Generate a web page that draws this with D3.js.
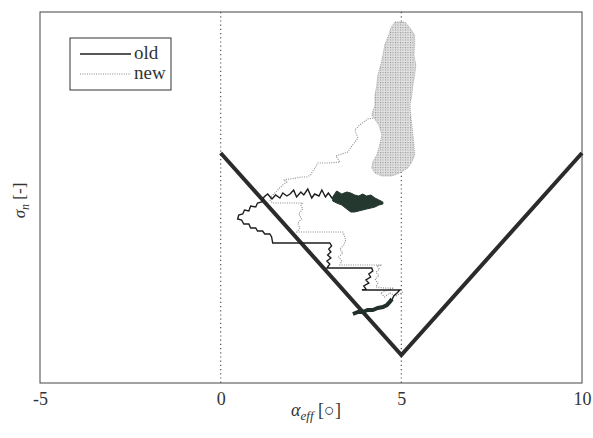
<!DOCTYPE html>
<html>
<head>
<meta charset="utf-8">
<script src="https://cdn.jsdelivr.net/npm/d3@7"></script>
<style>
  body { margin: 0; background: #fff; }
  text { font-family: "Liberation Serif", "DejaVu Serif", serif; fill: #333; }
</style>
</head>
<body>
<div id="chart"></div>
<script>
// tick labels on the x axis
var xTicks = [-5, 0, 5, 10];

// the V shaped boundary
var boundX = [0, 5, 10];
var boundY = [23.0, 2.8, 23.0];

// "old" trace, thin solid line
var oldX = [3.10, 2.98, 2.90, 2.80, 2.72, 2.60, 2.52, 2.41, 2.30, 2.22, 2.10, 2.02, 1.92, 1.83, 1.72, 1.64, 1.52, 1.42, 1.30, 1.20,
            1.14, 1.02, 0.97, 0.83, 0.78, 0.66, 0.61, 0.50, 0.47, 0.58, 0.64, 0.78, 0.83, 0.97, 1.02, 1.16, 1.22, 1.36, 1.41, 1.44,
            3.02, 3.07, 2.99, 3.05, 2.96, 3.05, 2.94, 3.02, 2.94,
            4.18, 4.21, 4.10, 4.15, 4.02, 4.10, 3.96, 4.02, 3.91,
            4.96, 4.88, 4.79, 4.74, 4.65, 4.60];
var oldY = [18.4, 19.0, 18.6, 19.3, 18.7, 18.9, 18.5, 19.4, 18.8, 19.1, 18.6, 19.3, 18.9, 18.7, 19.0, 18.5, 18.8, 18.4, 18.9, 18.6,
            18.1, 18.0, 17.6, 17.7, 17.2, 17.3, 16.9, 16.8, 16.4, 16.3, 15.9, 15.9, 15.5, 15.5, 15.2, 15.2, 14.9, 14.9, 14.6, 14.0,
            14.0, 13.7, 13.4, 13.1, 12.8, 12.5, 12.2, 11.9, 11.5,
            11.5, 11.2, 10.9, 10.6, 10.3, 10.0, 9.7, 9.4, 9.3,
            9.3, 9.0, 8.7, 8.3, 8.1, 7.8];

// "old" trace, dense end near the boundary
var oldTailX = [3.66, 3.80, 3.93, 4.07, 4.21, 4.35, 4.49, 4.60, 4.68, 4.74];
var oldTailY = [6.9, 7.1, 7.1, 7.3, 7.3, 7.5, 7.6, 7.8, 8.1, 8.4];

// "old" trace, dense blob (x, lower and upper edge)
var blobX  = [3.10, 3.21, 3.35, 3.49, 3.60, 3.71, 3.82, 3.93, 4.04, 4.16, 4.27, 4.38, 4.49];
var blobY0 = [18.2, 18.0, 17.8, 17.4, 17.1, 17.1, 17.2, 17.3, 17.4, 17.5, 17.6, 17.8, 17.9];
var blobY1 = [18.6, 19.2, 18.9, 19.1, 19.0, 18.8, 18.7, 18.9, 18.7, 18.8, 18.5, 18.3, 18.1];

// "new" trace, dotted line
var newX = [5.04, 4.85, 4.68, 4.54, 4.43, 4.63, 4.79, 4.52, 4.30, 4.35, 4.27, 4.38, 4.30, 4.40, 4.32, 4.46,
            3.30, 3.35, 3.27, 3.38, 3.30, 3.41, 3.46, 3.43, 3.38,
            2.11, 2.19, 2.13, 2.24, 2.16, 2.27, 2.22, 2.27,
            1.44, 1.36, 1.41, 1.50, 1.63, 1.72, 1.83, 1.74, 1.91, 2.08, 2.24, 2.38, 2.49, 2.55, 2.63, 2.69,
            3.02, 3.30, 3.19, 3.35, 3.52, 3.63, 3.80, 3.71, 3.85, 4.07, 4.24];
var newY = [9.1, 8.7, 9.0, 8.6, 9.0, 9.3, 9.5, 9.5, 9.6, 10.0, 10.4, 10.7, 11.1, 11.4, 11.7, 11.8,
            11.8, 12.2, 12.6, 13.0, 13.4, 13.8, 14.3, 14.7, 15.1,
            15.1, 15.5, 16.0, 16.4, 16.9, 17.4, 17.8, 18.0,
            18.0, 18.3, 18.7, 19.0, 19.5, 19.8, 20.1, 20.3, 20.4, 20.5, 20.6, 20.6, 20.8, 21.2, 21.6, 22.0,
            22.0, 22.1, 22.7, 22.9, 23.1, 23.7, 24.5, 25.3, 25.8, 26.4, 26.5];

// "new" trace, dense cloud at the top (y, left and right edge)
var cloudY  = [36.1, 35.5, 34.8, 33.8, 32.8, 31.8, 30.8, 29.8, 28.8, 27.8, 26.8, 25.8, 24.8, 23.8, 22.8, 22.1, 21.5, 21.0, 20.7];
var cloudX0 = [4.82, 4.71, 4.65, 4.54, 4.49, 4.43, 4.35, 4.32, 4.27, 4.27, 4.18, 4.38, 4.46, 4.40, 4.32, 4.21, 4.18, 4.27, 4.46];
var cloudX1 = [5.10, 5.24, 5.37, 5.37, 5.35, 5.40, 5.37, 5.32, 5.29, 5.24, 5.26, 5.29, 5.32, 5.35, 5.37, 5.29, 5.18, 4.96, 4.74];

var margin = {top: 12, right: 11, bottom: 55, left: 40},
    width = 593 - margin.left - margin.right,
    height = 438 - margin.top - margin.bottom;

var xScale = d3.scaleLinear().domain([-5, 10]).range([0, width]);
var yScale = d3.scaleLinear().domain([0, 37.1]).range([height, 0]);

var svg = d3.select("#chart").append("svg")
    .attr("width", 593)
    .attr("height", 438)
    .append("g")
    .attr("transform", "translate(" + margin.left + "," + margin.top + ")");

// dot texture for the cloud
var pat = svg.append("defs").append("pattern")
    .attr("id", "dots")
    .attr("patternUnits", "userSpaceOnUse")
    .attr("width", 2.5).attr("height", 2.5);
pat.append("rect").attr("width", 2.5).attr("height", 2.5).attr("fill", "#e0e0e0");
pat.append("rect").attr("width", 1).attr("height", 1).attr("fill", "#8f8f8f");

// dotted verticals at 0 and 5
svg.selectAll(".vline")
    .data([0, 5])
    .enter().append("line")
    .attr("x1", function(d) { return xScale(d); })
    .attr("x2", function(d) { return xScale(d); })
    .attr("y1", 0).attr("y2", height)
    .attr("stroke", "#555")
    .attr("stroke-width", 1.2)
    .attr("stroke-dasharray", "1.2,3");

// x axis
var xAxis = d3.axisBottom(xScale).tickValues(xTicks)
    .tickFormat(function(d) { return String(d); })
    .tickSize(0).tickPadding(9);
var gx = svg.append("g")
    .attr("transform", "translate(0," + height + ")")
    .attr("font-family", "Liberation Serif, serif")
    .call(xAxis);
gx.select(".domain").remove();
gx.selectAll("text").style("font-size", "18px").attr("fill", "#333");

// frame
svg.append("rect")
    .attr("width", width).attr("height", height)
    .attr("fill", "none")
    .attr("stroke", "#444")
    .attr("stroke-width", 1);

// cloud of the new trace
var cloud = cloudY.map(function(d, i) { return {y: d, x0: cloudX0[i], x1: cloudX1[i]}; });
svg.append("path")
    .datum(cloud)
    .attr("d", d3.area()
        .y(function(d) { return yScale(d.y); })
        .x0(function(d) { return xScale(d.x0); })
        .x1(function(d) { return xScale(d.x1); }))
    .attr("fill", "url(#dots)")
    .attr("stroke", "#999")
    .attr("stroke-width", 0.8)
    .attr("stroke-dasharray", "1,1");

// new trace line
var line = d3.line()
    .x(function(d) { return xScale(d[0]); })
    .y(function(d) { return yScale(d[1]); });

svg.append("path")
    .datum(newX.map(function(d, i) { return [d, newY[i]]; }))
    .attr("d", line)
    .attr("fill", "none")
    .attr("stroke", "#888")
    .attr("stroke-width", 1.1)
    .attr("stroke-dasharray", "1,1.3");

// boundary V
svg.append("path")
    .datum(boundX.map(function(d, i) { return [d, boundY[i]]; }))
    .attr("d", line)
    .attr("fill", "none")
    .attr("stroke", "#2b2b2b")
    .attr("stroke-width", 4);

// old trace
svg.append("path")
    .datum(oldX.map(function(d, i) { return [d, oldY[i]]; }))
    .attr("d", line)
    .attr("fill", "none")
    .attr("stroke", "#1e1e1e")
    .attr("stroke-width", 1.4);

svg.append("path")
    .datum(oldTailX.map(function(d, i) { return [d, oldTailY[i]]; }))
    .attr("d", line)
    .attr("fill", "none")
    .attr("stroke", "#22302c")
    .attr("stroke-width", 4);

var blob = blobX.map(function(d, i) { return {x: d, y0: blobY0[i], y1: blobY1[i]}; });
svg.append("path")
    .datum(blob)
    .attr("d", d3.area()
        .x(function(d) { return xScale(d.x); })
        .y0(function(d) { return yScale(d.y0); })
        .y1(function(d) { return yScale(d.y1); }))
    .attr("fill", "#24382f")
    .attr("stroke", "#24382f")
    .attr("stroke-width", 1);

// legend
var leg = svg.append("g").attr("transform", "translate(30,26)");
leg.append("rect")
    .attr("width", 101).attr("height", 52)
    .attr("fill", "#fff")
    .attr("stroke", "#333")
    .attr("stroke-width", 1);
leg.append("line").attr("x1", 10).attr("x2", 61).attr("y1", 16).attr("y2", 16)
    .attr("stroke", "#1e1e1e").attr("stroke-width", 1.4);
leg.append("line").attr("x1", 10).attr("x2", 61).attr("y1", 36).attr("y2", 36)
    .attr("stroke", "#888").attr("stroke-width", 1.1).attr("stroke-dasharray", "1,1.3");
leg.append("text").attr("x", 64).attr("y", 21).style("font-size", "19px").text("old");
leg.append("text").attr("x", 64).attr("y", 41).style("font-size", "19px").text("new");

// axis labels
var xl = svg.append("text")
    .attr("x", width / 2 + 5)
    .attr("y", height + 33)
    .attr("text-anchor", "middle")
    .style("font-size", "18px");
xl.append("tspan").style("font-style", "italic").text("α");
xl.append("tspan").style("font-style", "italic").style("font-size", "13px").attr("dy", 4).text("eff");
xl.append("tspan").attr("dy", -4).text(" [○]");

var yl = svg.append("text")
    .attr("transform", "translate(-15," + (height / 2 + 3) + ") rotate(-90)")
    .attr("text-anchor", "middle")
    .style("font-size", "17px");
yl.append("tspan").style("font-style", "italic").text("σ");
yl.append("tspan").style("font-style", "italic").style("font-size", "12px").attr("dy", 4).text("n");
yl.append("tspan").attr("dy", -4).text(" [-]");
</script>
</body>
</html>
